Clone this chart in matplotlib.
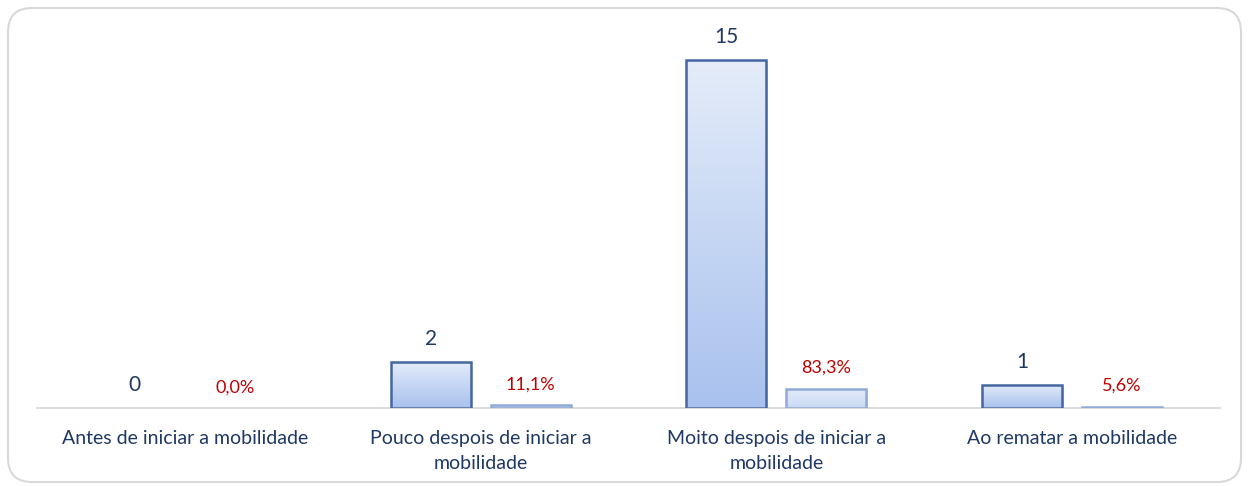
import numpy as np
import matplotlib
matplotlib.use("Agg")
import matplotlib.pyplot as plt
from matplotlib.patches import FancyBboxPatch
from matplotlib.colors import LinearSegmentedColormap

categories = ["Antes de iniciar a mobilidade",
              "Pouco despois de iniciar a\nmobilidade",
              "Moito despois de iniciar a\nmobilidade",
              "Ao rematar a mobilidade"]
counts = [0, 2, 15, 1]
pct = [0.0, 0.111, 0.833, 0.056]
pct_labels = ["0,0%", "11,1%", "83,3%", "5,6%"]

plt.rcParams['font.family'] = ['Lato', 'DejaVu Sans']

W, H = 1249, 486
fig = plt.figure(figsize=(W / 100, H / 100), dpi=100)

# background axes in pixel coordinates for rounded border
bg = fig.add_axes([0, 0, 1, 1], zorder=-1)
bg.set_xlim(0, W)
bg.set_ylim(0, H)
bg.axis("off")
bg.add_patch(FancyBboxPatch((8, 4), W - 16, H - 12,
                            boxstyle="round,pad=0,rounding_size=24",
                            fc="white", ec="#D9D9D9", lw=1.5))

left, right, bottom, top = 37, 1220, 408, 37
ax = fig.add_axes([left / W, (H - bottom) / H, (right - left) / W, (bottom - top) / H])
ax.set_facecolor("none")
for s in ["left", "right", "top"]:
    ax.spines[s].set_visible(False)
ax.spines["bottom"].set_color("#D9D9D9")
ax.spines["bottom"].set_linewidth(1.3)
ax.set_yticks([])
ax.set_xticks(range(len(categories)))
ax.set_xticklabels(categories, color="#1F3864", fontsize=14, linespacing=1.55)
ax.tick_params(axis="x", length=0, pad=16)

x = np.arange(len(categories))
bw = 0.27
off = 0.169

grad_dark = LinearSegmentedColormap.from_list("g1", ["#A8C1EE", "#E4ECF9"])
grad_light = LinearSegmentedColormap.from_list("g2", ["#C9D9F5", "#E4ECF9"])
grad = np.linspace(0, 1, 256).reshape(-1, 1)

def draw_bars(xs, vals, ec, cmap, lw):
    lws = [lw if v > 0 else 0 for v in vals]
    bars = ax.bar(xs, vals, bw, color="none", edgecolor=ec, linewidth=lws, zorder=3)
    for b, v in zip(bars, vals):
        if v <= 0:
            continue
        bx = b.get_x()
        im = ax.imshow(grad, cmap=cmap, aspect="auto", origin="lower",
                       extent=[bx, bx + b.get_width(), 0, v], zorder=2)
        im.set_clip_path(b)
        ax.bar(bx + b.get_width() / 2 + 0.006, v, bw, bottom=-0.08, color="#000000",
               alpha=0.10, zorder=1, linewidth=0)
    return bars

draw_bars(x - off, counts, "#43679E", grad_dark, 1.8)
draw_bars(x + off, pct, "#8FA9D8", grad_light, 1.8)

for xi, c in zip(x - off, counts):
    ax.annotate(str(c), (xi, c), xytext=(0, 16.5), textcoords="offset points",
                ha="center", va="center", color="#1F3864", fontsize=15)
for xi, p, lab in zip(x + off, pct, pct_labels):
    ax.annotate(lab, (xi, p), xytext=(0, 15), textcoords="offset points",
                ha="center", va="center", color="#C00000", fontsize=13)

ax.set_xlim(-0.5, 3.5)
ax.set_ylim(0, 16)
fig.savefig("out.png", dpi=100)
